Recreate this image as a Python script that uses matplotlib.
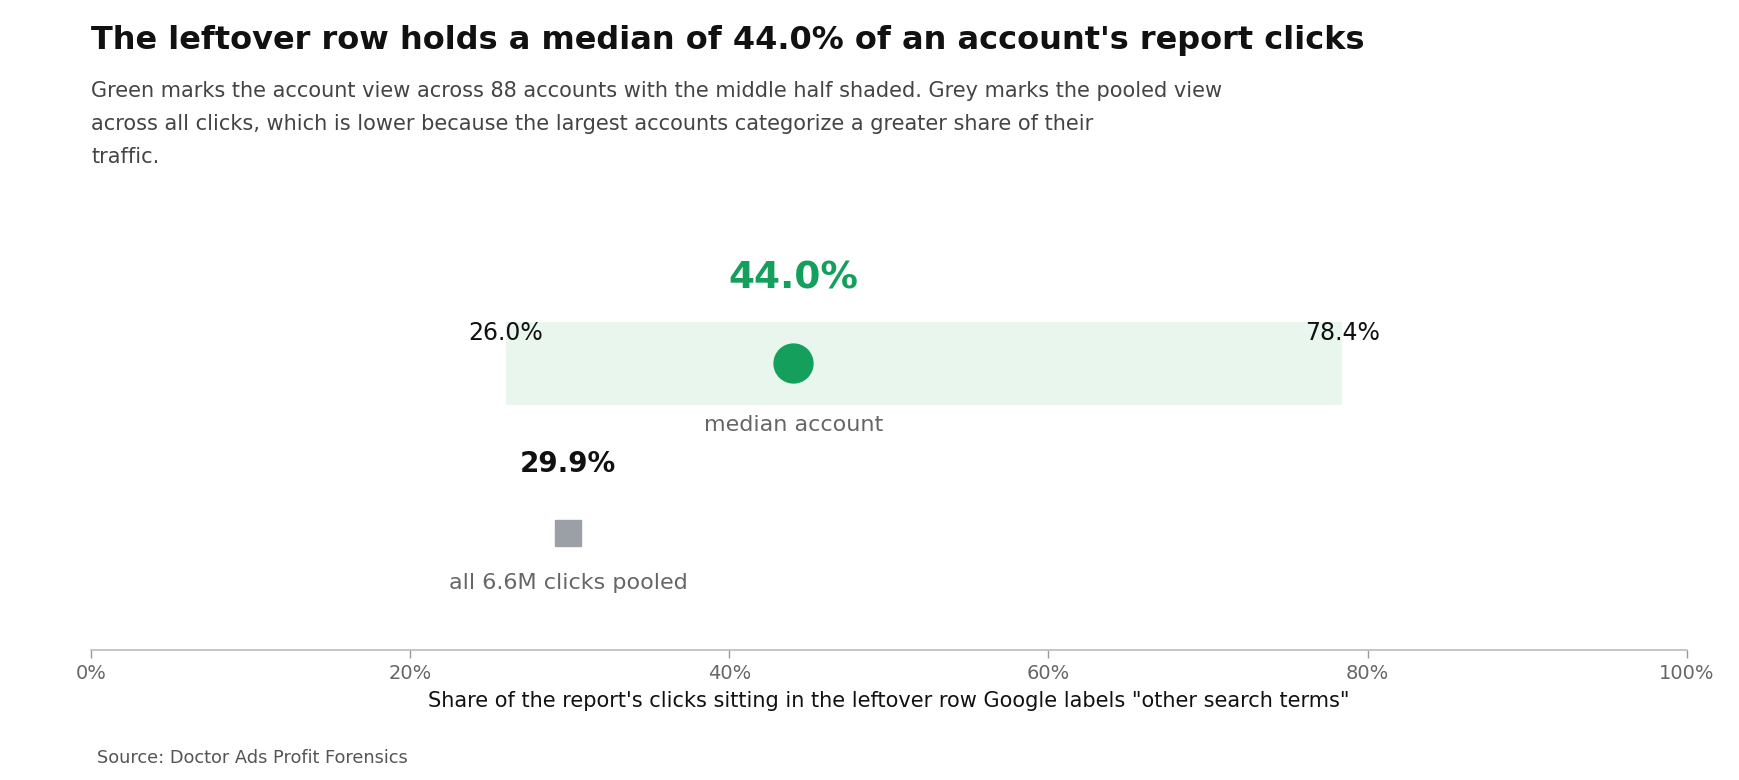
import matplotlib
matplotlib.use("Agg")
import matplotlib.pyplot as plt
from matplotlib.ticker import PercentFormatter

# values
row_labels = ["median account", "all 6.6M clicks pooled"]
account_median = 44.0
account_q1 = 26.0
account_q3 = 78.4
pooled_share = 29.9
x_ticks = [0, 20, 40, 60, 80, 100]

GREEN = "#14a05c"
BAND = "#e8f6ee"
GREY = "#9aa0a6"

fig = plt.figure(figsize=(17.4, 7.8), dpi=100)
ax = fig.add_axes([0.0523, 0.1667, 0.9171, 0.5626])

# account row (y=1): middle half shaded + median dot
ax.barh(1, account_q3 - account_q1, left=account_q1, height=0.49,
        color=BAND, zorder=1)
ax.plot(account_median, 1, "o", color=GREEN, markersize=28, zorder=3)
ax.text(account_median, 1.5, f"{account_median:.1f}%", ha="center", va="center",
        fontsize=27, fontweight="bold", color=GREEN)
ax.text(account_q1, 1.176, f"{account_q1:.1f}%", ha="center", va="center",
        fontsize=17, color="#111111")
ax.text(account_q3, 1.176, f"{account_q3:.1f}%", ha="center", va="center",
        fontsize=17, color="#111111")
ax.text(account_median, 0.64, row_labels[0], ha="center", va="center",
        fontsize=16, color="#666666")

# pooled row (y=0)
ax.plot(pooled_share, 0, "s", color=GREY, markersize=19, zorder=3)
ax.text(pooled_share, 0.405, f"{pooled_share:.1f}%", ha="center", va="center",
        fontsize=20, fontweight="bold", color="#111111")
ax.text(pooled_share, -0.294, row_labels[1], ha="center", va="center",
        fontsize=16, color="#666666")

ax.set_xlim(0, 100)
ax.set_ylim(-0.686, 1.895)
ax.set_xticks(x_ticks)
ax.xaxis.set_major_formatter(PercentFormatter(decimals=0))
ax.set_yticks([])
for side in ["top", "right", "left"]:
    ax.spines[side].set_visible(False)
ax.spines["bottom"].set_color("#bbbbbb")
ax.spines["bottom"].set_linewidth(1.2)
ax.tick_params(axis="x", length=6, width=1, color="#999999", pad=4,
               labelsize=14, labelcolor="#666666")
ax.set_xlabel("Share of the report's clicks sitting in the leftover row Google labels \"other search terms\"",
              fontsize=15, color="#111111", labelpad=6)

fig.text(0.0523, 0.937, "The leftover row holds a median of 44.0% of an account's report clicks",
         fontsize=23, fontweight="bold", color="#111111", va="baseline")
fig.text(0.0523, 0.896,
         "Green marks the account view across 88 accounts with the middle half shaded. Grey marks the pooled view\n"
         "across all clicks, which is lower because the largest accounts categorize a greater share of their\n"
         "traffic.",
         fontsize=15, color="#444444", va="top", linespacing=1.8)
fig.text(0.0555, 0.0285, "Source: Doctor Ads Profit Forensics", fontsize=12.8,
         color="#555555", va="center")

fig.savefig("out.png", dpi=100)
